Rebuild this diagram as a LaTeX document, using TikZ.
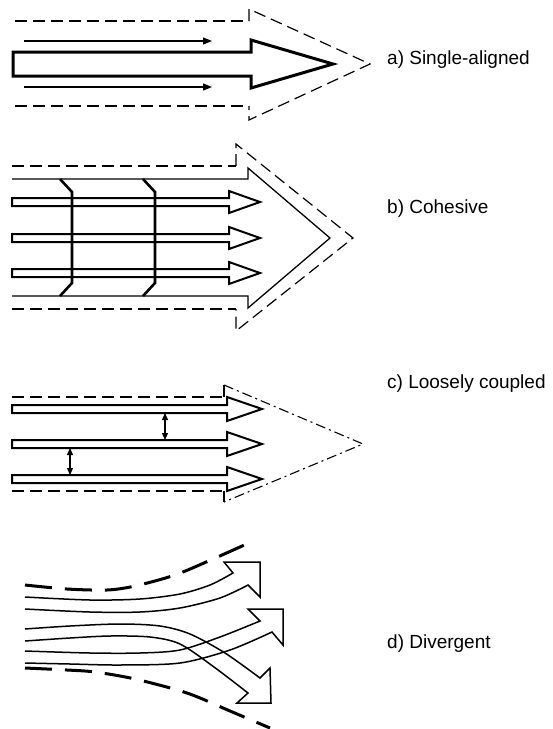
\documentclass[tikz,border=0pt]{standalone}
\usepackage{fontspec}
\setmainfont{Liberation Sans}
\usetikzlibrary{arrows.meta}
\begin{document}
\begin{tikzpicture}[x=1pt,y=-1pt,line join=miter,
  dashln/.style={line width=1.2pt,dash pattern=on 12pt off 6pt},
  dashdotln/.style={line width=1.1pt,dash pattern=on 10pt off 4pt on 2pt off 4pt},
  thinarr/.style={line width=1.2pt,-{Triangle[length=9pt,width=7pt]}},
  dblarr/.style={line width=1.2pt,{Triangle[length=7pt,width=6pt]}-{Triangle[length=7pt,width=6pt]}},
  blockarr/.style={line width=2pt},
  bracketln/.style={line width=2.6pt},
  flowln/.style={line width=1.5pt},
  thickdash/.style={line width=3pt,dash pattern=on 27pt off 13pt},
  lbl/.style={anchor=base west,inner sep=0pt,font=\fontsize{19}{23}\selectfont}]
\useasboundingbox (0,0) rectangle (553,729);

% ---------- a) Single-aligned
\draw[dashln] (15,21) -- (249,21);
\draw[dashln] (15,106) -- (249,106);
\draw[dashln] (249,21) -- (249,9) -- (370,64) -- (249,120) -- (249,106);
\draw[line width=3pt] (13,52) -- (251,52) -- (251,40) -- (333,64) -- (251,88) -- (251,76) -- (13,76) -- cycle;
\coordinate (a1s) at (24,41); \coordinate (a1e) at (212,41);
\coordinate (a2s) at (24,87); \coordinate (a2e) at (212,87);
\draw[thinarr] (a1s) -- (a1e);
\draw[thinarr] (a2s) -- (a2e);
\node[lbl] (la) at (387,64) {a) Single-aligned};

% ---------- b) Cohesive
\draw[dashln] (12,166) -- (236,166);
\draw[dashln] (12,309) -- (236,309);
\draw[dashln] (236,166) -- (236,144) -- (353,238) -- (236,331) -- (236,309);
\draw[line width=1.3pt] (12,179) -- (248,179) -- (248,168) -- (330,238) -- (248,308) -- (248,296) -- (12,296);
\foreach \cy in {202,238,273}{
  \draw[blockarr] (12,\cy-4) -- (229,\cy-4) -- (229,\cy-11) -- (260,\cy) -- (229,\cy+11) -- (229,\cy+4) -- (12,\cy+4) -- cycle;
}
\draw[bracketln] (60,179) -- (72,192) -- (72,283) -- (60,296);
\draw[bracketln] (143,179) -- (155,192) -- (155,283) -- (143,296);
\node[lbl] (lb) at (387,213) {b) Cohesive};

% ---------- c) Loosely coupled
\foreach \cy in {409,444,479}{
  \draw[blockarr] (12,\cy-4) -- (227,\cy-4) -- (227,\cy-12) -- (262,\cy) -- (227,\cy+12) -- (227,\cy+4) -- (12,\cy+4) -- cycle;
}
\draw[dashln] (12,397) -- (224,397);
\draw[line width=1.1pt] (224,397) -- (224,385);
\draw[dashdotln] (224,385) -- (363,444) -- (224,502);
\draw[line width=1.1pt] (224,502) -- (224,491);
\draw[dashln] (12,491) -- (224,491);
\coordinate (c1s) at (165,413); \coordinate (c1e) at (165,440);
\coordinate (c2s) at (70,448); \coordinate (c2e) at (70,475);
\draw[dblarr] (c1s) -- (c1e);
\draw[dblarr] (c2s) -- (c2e);
\node[lbl] (lc) at (387,388) {c) Loosely coupled};

% ---------- d) Divergent
\draw[thickdash] plot[smooth] coordinates {(25,585) (67,589) (107,590) (135,586) (175,575) (213,559) (251,542)};
\draw[thickdash] plot[smooth] coordinates {(25,668) (67,670) (95,672) (135,679) (187,693) (230,711) (270,728)};
% top arrow
\draw[flowln] plot[smooth] coordinates {(25,597) (90,600) (140,599) (180,594) (210,585) (233,573)}
  -- (224,562) -- (260,562) -- (260,597) -- (248,585)
  -- plot[smooth] coordinates {(248,585) (220,598) (180,608) (140,612) (90,612) (25,609)};
% bottom arrow (down)
\draw[flowln] plot[smooth] coordinates {(25,629) (70,626) (120,624) (160,626) (190,634) (225,653) (260,678)}
  -- (270,668) -- (271,703) -- (237,703) -- (248,693)
  -- plot[smooth] coordinates {(248,693) (214,667) (180,644) (150,637) (110,636) (70,638) (25,641)};
% middle arrow (up)
\draw[flowln] plot[smooth] coordinates {(25,651) (90,653) (140,653) (180,650) (220,637) (260,621)}
  -- (248,609) -- (283,609) -- (283,645) -- (272,632)
  -- plot[smooth] coordinates {(272,632) (230,650) (180,663) (120,665) (70,664) (25,663)};
\node[lbl] (ld) at (387,648) {d) Divergent};
\end{tikzpicture}
\end{document}
